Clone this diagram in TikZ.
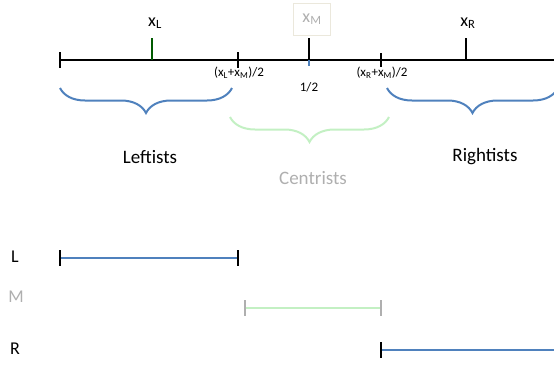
\documentclass[tikz,border=0pt]{standalone}
\usepackage{fontspec}
\setmainfont{Carlito}
\usetikzlibrary{decorations.pathreplacing}
\definecolor{lineblue}{RGB}{79,129,189}
\definecolor{palegreen}{RGB}{195,240,195}
\definecolor{lightgray}{RGB}{175,175,175}
\definecolor{boxline}{RGB}{235,232,220}
\definecolor{darkgreen}{RGB}{0,90,0}

\begin{document}
\begin{tikzpicture}[x=1pt, y=-1pt, line width=2pt,
    tickmark/.style={black, line width=2pt},
    brc/.style={decorate, decoration={brace, mirror, amplitude=25pt}, line width=2pt},
    big/.style={font=\fontsize{19}{22}\selectfont},
    mid/.style={font=\fontsize{18}{21}\selectfont},
    small/.style={font=\fontsize{13}{15}\selectfont}]
\useasboundingbox (0,0) rectangle (554,367);

                % the axis
                \coordinate (a0) at (60,60);
                \coordinate (a1) at (554,60);
                \coordinate (pL) at (152,60);
                \coordinate (mL) at (238,60);
                \coordinate (pM) at (309,60);
                \coordinate (mR) at (381,60);
                \coordinate (pR) at (466,60);

                \node[mid] (xl) at (155,23) {x\textsubscript{L}};
                \node[mid, lightgray, draw=boxline, line width=1pt, minimum width=37pt, minimum height=32pt] (xm) at (312,19) {x\textsubscript{M}};
                \node[mid] (xr) at (468,23) {x\textsubscript{R}};

                \node[small] (hl) at (239,73) {(x\textsubscript{L}+x\textsubscript{M})/2};
                \node[small] (half) at (309,87) {1/2};
                \node[small] (hr) at (382,73) {(x\textsubscript{R}+x\textsubscript{M})/2};

                \draw (a0) -- (a1);
                \draw[tickmark] (a0) ++(0,-8) -- ++(0,16);
                \draw[tickmark] (mL) ++(0,-8) -- ++(0,16);
                \draw[tickmark] (mR) ++(0,-7) -- ++(0,14);
                \draw[darkgreen] (pL) -- ++(0,-22);
                \draw[tickmark] (pM) -- ++(0,-22);
                \draw[lineblue] (pM) -- ++(0,6);
                \draw[tickmark] (pR) -- ++(0,-22);

                % braces and groups
                \draw[brc, lineblue] (60,88) -- (232,88);
                \draw[brc, palegreen] (230,117) -- (389,117);
                \draw[brc, lineblue] (387,88) -- (558,88);

                \node[big] (lefts) at (150,157) {Leftists};
                \node[big, lightgray] (cents) at (313,178) {Centrists};
                \node[big] (rights) at (485,157) {Rightists};

                % intervals
                \node[mid] (l) at (15,257) {L};
                \node[mid, lightgray] (m) at (16,297) {M};
                \node[mid] (r) at (15,349) {R};

                \coordinate (l0) at (60,258);
                \coordinate (l1) at (238,258);
                \coordinate (m0) at (245,308);
                \coordinate (m1) at (381,308);
                \coordinate (r0) at (381,350);
                \coordinate (r1) at (554,350);

                \draw[lineblue] (l0) -- (l1);
                \draw[palegreen] (m0) -- (m1);
                \draw[lineblue] (r0) -- (r1);
                \draw[tickmark] (l0) ++(0,-8) -- ++(0,16);
                \draw[tickmark] (l1) ++(0,-8) -- ++(0,16);
                \draw[tickmark, lightgray] (m0) ++(0,-8) -- ++(0,16);
                \draw[tickmark, lightgray] (m1) ++(0,-8) -- ++(0,16);
                \draw[tickmark] (r0) ++(0,-8) -- ++(0,16);
\end{tikzpicture}
\end{document}
